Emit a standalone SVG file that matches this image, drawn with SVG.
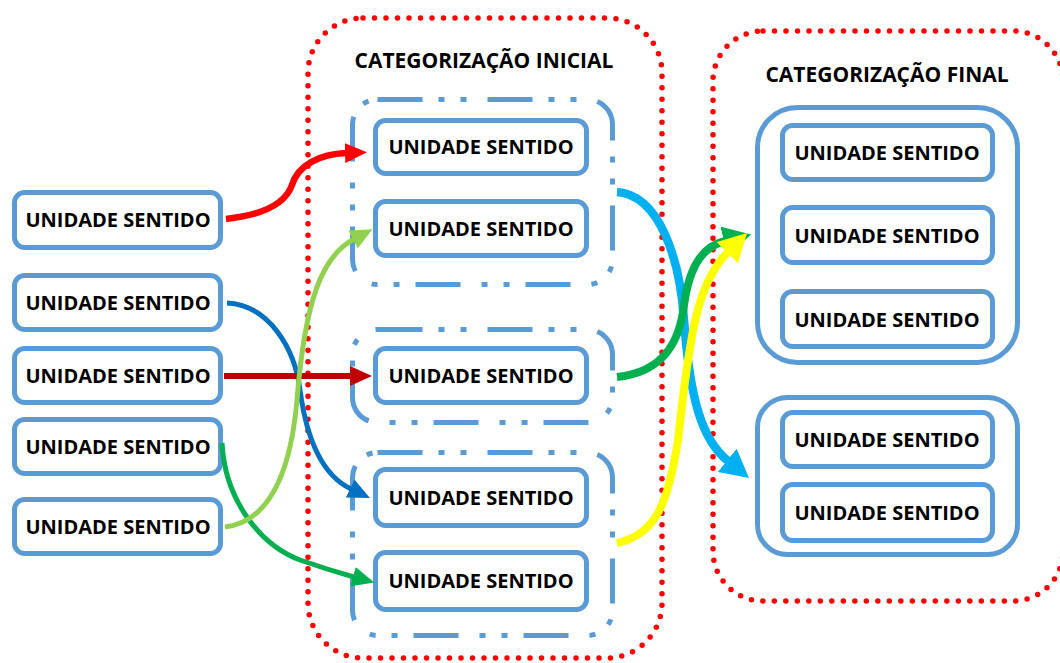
<svg xmlns="http://www.w3.org/2000/svg" width="1060" height="663" viewBox="0 0 1060 663">
<style>
.box{fill:#fff;stroke:#5B9BD5;stroke-width:5}
.grp{fill:none;stroke:#5B9BD5;stroke-width:5}
.dd{fill:none;stroke:#5B9BD5;stroke-width:5;stroke-dasharray:45 16 6 16 6 21}
.dot{fill:none;stroke:#FF0000;stroke-width:5.5;stroke-linecap:round;stroke-dasharray:0 11.5}
.t{font-family:"Open Sans","Liberation Sans",sans-serif;font-weight:700;font-size:20px;fill:#000;text-anchor:middle}
.h{font-family:"Open Sans","Liberation Sans",sans-serif;font-weight:700;font-size:21px;fill:#000;text-anchor:middle}
.a{fill:none}
</style>
<defs>
<marker id="mRed" markerUnits="userSpaceOnUse" viewBox="0 0 22 20" markerWidth="22" markerHeight="20" refX="1" refY="10" orient="auto"><path d="M0,0 L22,10 L0,20 z" fill="#FF0000"/></marker>
<marker id="mLg" markerUnits="userSpaceOnUse" viewBox="0 0 22 20" markerWidth="22" markerHeight="20" refX="1" refY="10" orient="auto"><path d="M0,0 L22,10 L0,20 z" fill="#92D050"/></marker>
<marker id="mBl" markerUnits="userSpaceOnUse" viewBox="0 0 22 20" markerWidth="22" markerHeight="20" refX="1" refY="10" orient="auto"><path d="M0,0 L22,10 L0,20 z" fill="#0070C0"/></marker>
<marker id="mDr" markerUnits="userSpaceOnUse" viewBox="0 0 22 20" markerWidth="22" markerHeight="20" refX="1" refY="10" orient="auto"><path d="M0,0 L22,10 L0,20 z" fill="#C00000"/></marker>
<marker id="mGr" markerUnits="userSpaceOnUse" viewBox="0 0 22 20" markerWidth="22" markerHeight="20" refX="1" refY="10" orient="auto"><path d="M0,0 L22,10 L0,20 z" fill="#00B050"/></marker>
<marker id="mCy" markerUnits="userSpaceOnUse" viewBox="0 0 28 30" markerWidth="28" markerHeight="30" refX="1" refY="15" orient="auto"><path d="M0,0 L28,15 L0,30 z" fill="#00B0F0"/></marker>
<marker id="mGr2" markerUnits="userSpaceOnUse" viewBox="0 0 28 30" markerWidth="28" markerHeight="30" refX="1" refY="15" orient="auto"><path d="M0,0 L28,15 L0,30 z" fill="#00B050"/></marker>
<marker id="mYe" markerUnits="userSpaceOnUse" viewBox="0 0 28 30" markerWidth="28" markerHeight="30" refX="1" refY="15" orient="auto"><path d="M0,0 L28,15 L0,30 z" fill="#FFFF00"/></marker>
</defs>
<rect width="1060" height="663" fill="#fff"/>

<g id="cat-inicial">
<rect class="dot" x="308" y="18" width="354" height="640" rx="55"/>
<text class="h" x="484" y="68">CATEGORIZAÇÃO INICIAL</text>
</g>
<g id="cat-final">
<rect class="dot" x="713" y="31" width="350" height="570" rx="50"/>
<text class="h" x="887" y="82">CATEGORIZAÇÃO FINAL</text>
</g>

<g id="grupo-inicial-1"><rect class="dd" x="352.5" y="99.5" width="260" height="185" rx="25"/></g>
<g id="grupo-inicial-2"><rect class="dd" x="352.5" y="329.5" width="260" height="93" rx="25"/></g>
<g id="grupo-inicial-3"><rect class="dd" x="352.5" y="452.5" width="260" height="183" rx="25"/></g>
<g id="grupo-final-1"><rect class="grp" x="757.5" y="107.5" width="260" height="255" rx="40"/></g>
<g id="grupo-final-2"><rect class="grp" x="757.5" y="397.5" width="260" height="157" rx="30"/></g>

<g id="us-l1"><rect class="box" x="14.5" y="192.5" width="206" height="55" rx="10"/><text class="t" x="118" y="227">UNIDADE SENTIDO</text></g>
<g id="us-l2"><rect class="box" x="14.5" y="275.5" width="206" height="54" rx="10"/><text class="t" x="118" y="310">UNIDADE SENTIDO</text></g>
<g id="us-l3"><rect class="box" x="14.5" y="348.5" width="206" height="54" rx="10"/><text class="t" x="118" y="383">UNIDADE SENTIDO</text></g>
<g id="us-l4"><rect class="box" x="14.5" y="419.5" width="206" height="54" rx="10"/><text class="t" x="118" y="454">UNIDADE SENTIDO</text></g>
<g id="us-l5"><rect class="box" x="14.5" y="499.5" width="206" height="54" rx="10"/><text class="t" x="118" y="534">UNIDADE SENTIDO</text></g>

<g id="us-m1"><rect class="box" x="375.5" y="120.5" width="211" height="53" rx="10"/><text class="t" x="481" y="154">UNIDADE SENTIDO</text></g>
<g id="us-m2"><rect class="box" x="375.5" y="201.5" width="211" height="54" rx="10"/><text class="t" x="481" y="236">UNIDADE SENTIDO</text></g>
<g id="us-m3"><rect class="box" x="375.5" y="348.5" width="211" height="54" rx="10"/><text class="t" x="481" y="383">UNIDADE SENTIDO</text></g>
<g id="us-m4"><rect class="box" x="375.5" y="469.5" width="211" height="56" rx="10"/><text class="t" x="481" y="505">UNIDADE SENTIDO</text></g>
<g id="us-m5"><rect class="box" x="375.5" y="552.5" width="211" height="57" rx="10"/><text class="t" x="481" y="588">UNIDADE SENTIDO</text></g>

<g id="us-r1"><rect class="box" x="782.5" y="125.5" width="210" height="54" rx="10"/><text class="t" x="887" y="160">UNIDADE SENTIDO</text></g>
<g id="us-r2"><rect class="box" x="782.5" y="207.5" width="210" height="55" rx="10"/><text class="t" x="887" y="243">UNIDADE SENTIDO</text></g>
<g id="us-r3"><rect class="box" x="782.5" y="291.5" width="210" height="55" rx="10"/><text class="t" x="887" y="327">UNIDADE SENTIDO</text></g>
<g id="us-r4"><rect class="box" x="782.5" y="412.5" width="210" height="54" rx="10"/><text class="t" x="887" y="447">UNIDADE SENTIDO</text></g>
<g id="us-r5"><rect class="box" x="782.5" y="484.5" width="210" height="56" rx="10"/><text class="t" x="887" y="520">UNIDADE SENTIDO</text></g>

<g id="connectors">
<path class="a" d="M227,303 C270,305 295,350 300,390 C308,450 328,478 351,489" stroke="#0070C0" stroke-width="5" marker-end="url(#mBl)"/>
<path class="a" d="M224,376 L351,376" stroke="#C00000" stroke-width="6" marker-end="url(#mDr)"/>
<path class="a" d="M222,443 C225,500 260,545 300,560 C320,567 336,572 354,577" stroke="#00B050" stroke-width="5" marker-end="url(#mGr)"/>
<path class="a" d="M225,527 C265,522 290,480 297,400 C305,300 322,256 354,239" stroke="#92D050" stroke-width="5" marker-end="url(#mLg)"/>
<path class="a" d="M226,219 C262,215 285,205 292,185 C298,165 320,154 346,153" stroke="#FF0000" stroke-width="6.5" marker-end="url(#mRed)"/>
<path class="a" d="M617,192 C660,195 680,260 684,320 C690,400 702,440 728,461" stroke="#00B0F0" stroke-width="8.5" marker-end="url(#mCy)"/>
<path class="a" d="M617,377 C665,372 680,340 684,305 C690,262 705,246 725,241" stroke="#00B050" stroke-width="8" marker-end="url(#mGr2)"/>
<path class="a" d="M617,543 C655,535 668,505 678,440 C690,330 698,282 728,252" stroke="#FFFF00" stroke-width="8" marker-end="url(#mYe)"/>
</g>
</svg>
